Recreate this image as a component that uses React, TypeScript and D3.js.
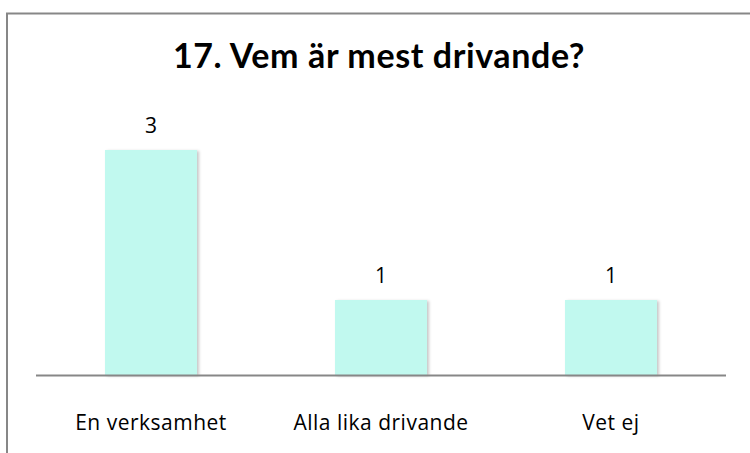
import React from "react";
import * as d3 from "d3";

const categories = ["En verksamhet", "Alla lika drivande", "Vet ej"];
const values = [3, 1, 1];
const title = "17. Vem är mest drivande?";

export default function App() {
  const W = 750, H = 453;
  const x = d3.scaleBand<string>().domain(categories).range([36, 726]).paddingInner(0.6).paddingOuter(0.3);
  const y = d3.scaleLinear().domain([0, 3]).range([375, 150]);
  return (
    <svg width={W} height={H} style={{ position: "absolute", left: 0, top: 0 }}>
      <defs>
        <filter id="sh" x="-10%" y="-10%" width="130%" height="130%">
          <feDropShadow dx="2" dy="1" stdDeviation="1.5" floodColor="#000" floodOpacity="0.22" />
        </filter>
      </defs>
      <rect x={0} y={0} width={W} height={H} fill="#fff" />
      <path d={`M7,${H} L7,13.5 L${W},13.5`} fill="none" stroke="#878787" strokeWidth={2} />
      <text x={379} y={68} textAnchor="middle" fontFamily="Lato, 'Open Sans', sans-serif" fontWeight="bold" fontSize={34} letterSpacing={0.6} fill="#000">{title}</text>
      {categories.map((c, i) => (
        <g key={c}>
          <rect x={x(c)} y={y(values[i])} width={x.bandwidth()} height={y(0) - y(values[i])} fill="#c1f9ef" filter="url(#sh)" />
          <text x={(x(c) as number) + x.bandwidth() / 2} y={y(values[i]) - 17} textAnchor="middle" fontFamily="'Open Sans', sans-serif" fontSize={21} fill="#000">{values[i]}</text>
          <text x={(x(c) as number) + x.bandwidth() / 2} y={430} textAnchor="middle" fontFamily="'Open Sans', sans-serif" fontSize={21} letterSpacing={0.5} fill="#000">{c}</text>
        </g>
      ))}
      <line x1={36} x2={726} y1={375.5} y2={375.5} stroke="#878787" strokeWidth={2} />
    </svg>
  );
}
